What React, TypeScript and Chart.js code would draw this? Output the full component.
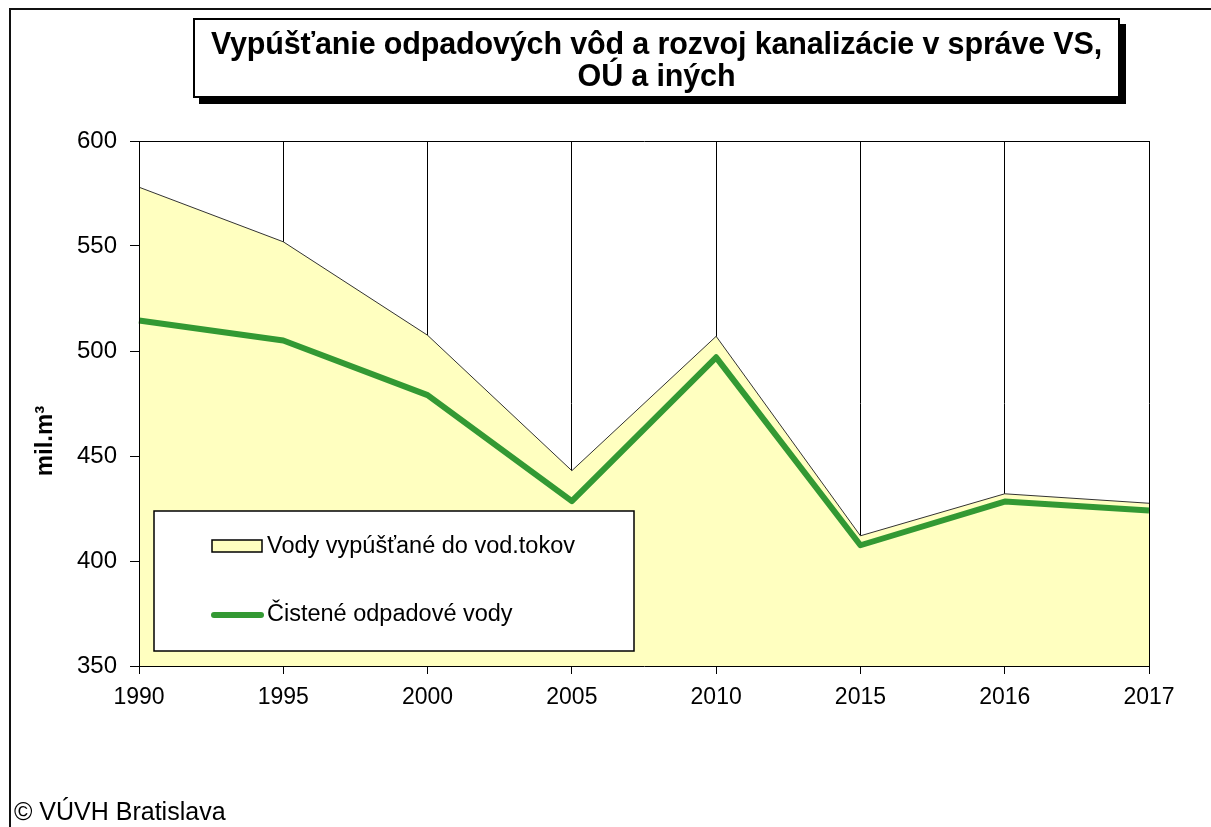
import React, { useEffect, useRef } from "react";
import { Chart, registerables } from "chart.js";

Chart.register(...registerables);

// ---- Data ----
const years = ["1990", "1995", "2000", "2005", "2010", "2015", "2016", "2017"];
const dischargedWater = [578, 552, 507.5, 443, 507, 412, 432, 427.5];
const treatedWater = [514.5, 505, 479, 428.5, 497, 407.5, 428.3, 424];
const yMin = 350;
const yMax = 600;
const yStep = 50;
const seriesLabels = ["Vody vypúšťané do vod.tokov", "Čistené odpadové vody"];
const titleLines = [
  "Vypúšťanie odpadových vôd a rozvoj kanalizácie v správe VS,",
  "OÚ a iných",
];
const yAxisTitle = "mil.m³";
const footerText = "© VÚVH Bratislava";

const FONT = "'Liberation Sans', Arial, sans-serif";
const AREA_FILL = "#FFFFC0";
const GREEN = "#339933";

const insideLegend = {
  id: "insideLegend",
  afterDraw(chart: any) {
    const { ctx, chartArea } = chart;
    const ds = chart.data.datasets;
    const x = chartArea.left + 15;
    const y = chartArea.top + 370;
    const w = 480;
    const h = 140;
    ctx.save();
    ctx.fillStyle = "#ffffff";
    ctx.fillRect(x, y, w, h);
    ctx.strokeStyle = "#000";
    ctx.lineWidth = 1.5;
    ctx.strokeRect(x, y, w, h);

    ctx.font = `23.5px ${FONT}`;
    ctx.textBaseline = "middle";
    ctx.textAlign = "left";

    // area swatch
    ctx.fillStyle = ds[0].backgroundColor;
    ctx.fillRect(x + 58, y + 29, 50, 12);
    ctx.strokeStyle = "#000";
    ctx.lineWidth = 1.5;
    ctx.strokeRect(x + 58, y + 29, 50, 12);
    ctx.fillStyle = "#000";
    ctx.fillText(ds[0].label, x + 113, y + 36);

    // line swatch
    ctx.beginPath();
    ctx.strokeStyle = ds[1].borderColor;
    ctx.lineWidth = 6;
    ctx.lineCap = "round";
    ctx.moveTo(x + 60, y + 104);
    ctx.lineTo(x + 107, y + 104);
    ctx.stroke();
    ctx.fillStyle = "#000";
    ctx.fillText(ds[1].label, x + 113, y + 104);

    // y axis title
    ctx.save();
    ctx.translate(chartArea.left - 94, chartArea.top + 300);
    ctx.rotate(-Math.PI / 2);
    ctx.font = `bold 24px ${FONT}`;
    ctx.textAlign = "center";
    ctx.textBaseline = "middle";
    ctx.fillStyle = "#000";
    ctx.fillText(yAxisTitle, 0, 0);
    ctx.restore();

    ctx.restore();
  },
};

export default function App() {
  const canvasRef = useRef<HTMLCanvasElement | null>(null);

  useEffect(() => {
    if (!canvasRef.current) return;
    const chart = new Chart(canvasRef.current, {
      type: "line",
      data: {
        labels: years,
        datasets: [
          {
            label: seriesLabels[0],
            data: dischargedWater,
            backgroundColor: AREA_FILL,
            borderColor: "#333333",
            borderWidth: 1,
            fill: "start",
            pointRadius: 0,
            tension: 0,
            order: 1,
          },
          {
            label: seriesLabels[1],
            data: treatedWater,
            borderColor: GREEN,
            backgroundColor: GREEN,
            borderWidth: 6,
            borderJoinStyle: "round",
            borderCapStyle: "butt",
            fill: false,
            pointRadius: 0,
            tension: 0,
            order: 0,
          },
        ],
      },
      options: {
        responsive: false,
        animation: false,
        devicePixelRatio: 1,
        layout: { padding: { left: 10, top: 141, right: 62, bottom: 0 } },
        plugins: {
          legend: { display: false },
          title: { display: false },
          tooltip: { enabled: false },
        },
        scales: {
          x: {
            type: "category",
            offset: false,
            grid: {
              color: "#000",
              lineWidth: 1,
              tickLength: 8,
              tickColor: "#000",
            },
            border: { display: true, color: "#000", width: 1, z: 1 },
            ticks: {
              color: "#000",
              font: { family: FONT, size: 23 },
              padding: 10,
              maxRotation: 0,
              autoSkip: false,
            },
            afterFit(scale: any) {
              scale.height = 161;
            },
          },
          y: {
            min: yMin,
            max: yMax,
            grid: {
              color: (c: any) =>
                c.tick && c.tick.value === yMax ? "#000" : "rgba(0,0,0,0)",
              tickColor: "#000",
              tickLength: 9,
              lineWidth: 1,
            },
            border: { display: true, color: "#000", width: 1, z: 1 },
            ticks: {
              stepSize: yStep,
              color: "#000",
              font: { family: FONT, size: 24 },
              padding: 13,
            },
            afterFit(scale: any) {
              scale.width = 129;
            },
          },
        },
      },
      plugins: [insideLegend],
    } as any);
    return () => chart.destroy();
  }, []);

  return (
    <div
      style={{
        position: "absolute",
        left: 0,
        top: 0,
        width: 1211,
        height: 827,
        overflow: "hidden",
        background: "#fff",
      }}
    >
      <div
        style={{
          position: "absolute",
          left: 9,
          top: 8,
          width: 1300,
          height: 900,
          borderLeft: "2px solid #111",
          borderTop: "2px solid #111",
        }}
      />
      <canvas
        ref={canvasRef}
        width={1211}
        height={827}
        style={{ position: "absolute", left: 0, top: 0, width: 1211, height: 827 }}
      />
      <div
        style={{
          position: "absolute",
          left: 193,
          top: 18,
          width: 927,
          height: 80,
          boxSizing: "border-box",
          border: "2px solid #000",
          boxShadow: "6px 6px 0 #000",
          background: "#fff",
          fontFamily: FONT,
          fontWeight: "bold",
          fontSize: 30.5,
          lineHeight: "32px",
          textAlign: "center",
          paddingTop: 7,
          color: "#000",
          whiteSpace: "nowrap",
          letterSpacing: -0.15,
        }}
      >
        {titleLines.map((t, i) => (
          <div key={i}>{t}</div>
        ))}
      </div>
      <div
        style={{
          position: "absolute",
          left: 14,
          top: 798,
          fontFamily: FONT,
          fontSize: 25,
          lineHeight: "27px",
          color: "#000",
          whiteSpace: "nowrap",
        }}
      >
        {footerText}
      </div>
    </div>
  );
}
